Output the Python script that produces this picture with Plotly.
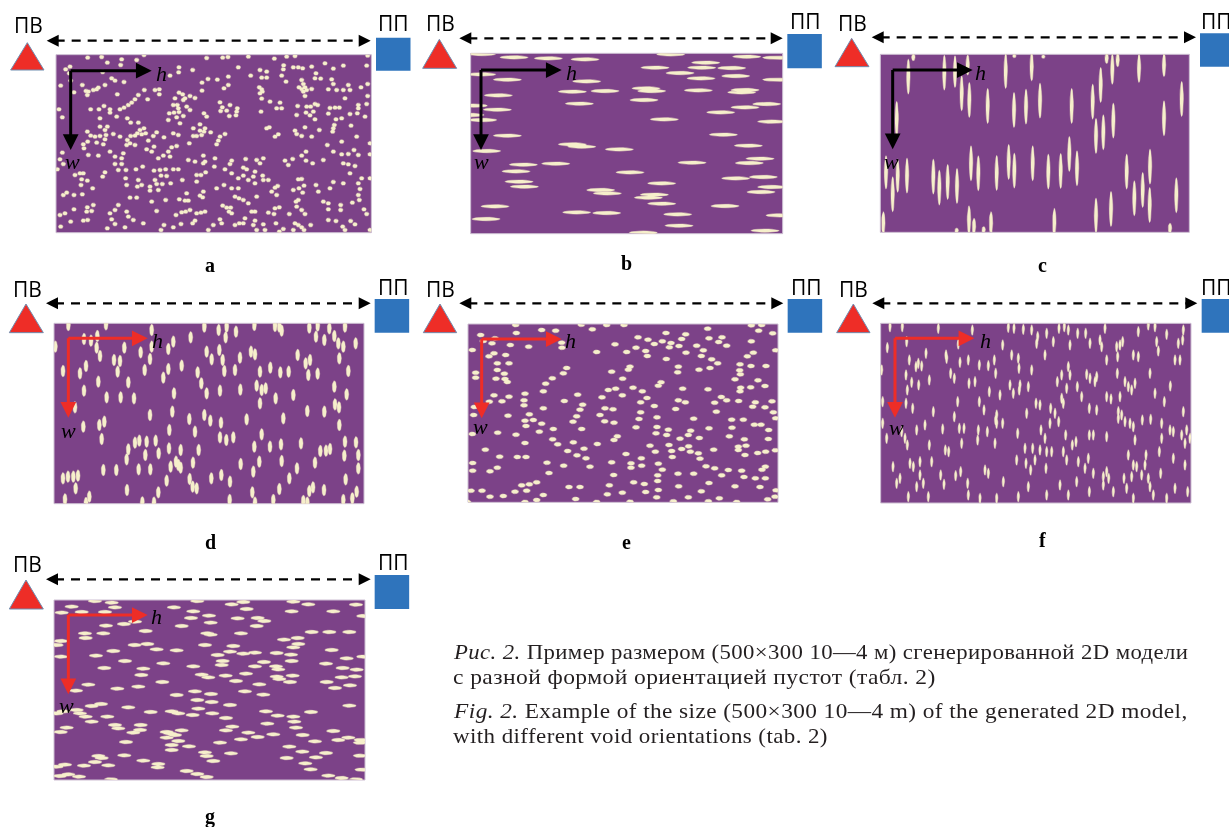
import numpy as np
import plotly.graph_objects as go

VOIDS_A = [(263,143),(305,141),(432,135),(620,144),(668,143),(684,141),(745,140),(823,146),(860,140),(885,138),(365,148),(322,158),(362,165),(410,150),(1103,137),(210,170),(197,178),(537,172),(851,166),(715,172),(975,160),(1030,167),(935,170),(880,172),(895,172),(908,175),(1100,167),(1000,176),(578,180),(780,180),(800,185),(850,178),(536,187),(510,197),(785,203),(800,203),(845,197),(752,197),(948,190),(945,205),(962,206),(995,208),(685,200),(652,209),(624,207),(606,218),(335,205),(345,212),(372,216),(308,186),(208,190),(212,212),(182,227),(247,225),(295,233),(315,225),(280,240),(290,238),(265,245),(258,243),(262,255),(222,247),(352,253),(415,255),(405,268),(395,278),(385,285),(433,240),(465,240),(478,238),(478,253),(443,268),(606,242),(685,225),(672,235),(778,232),(785,238),(787,245),(780,250),(785,266),(858,215),(905,210),(910,222),(897,232),(905,237),(915,232),(935,237),(920,240),(910,245),(915,258),(985,238),(1010,240),(1030,240),(1035,265),(1045,225),(1050,240),(1083,232),(1103,222),(1103,258),(1000,222),(537,248),(525,265),(548,253),(555,265),(570,258),(585,264),(550,270),(520,285),(532,285),(535,295),(537,306),(560,290),(570,300),(508,310),(522,308),(505,330),(550,318),(530,322),(540,340),(612,310),(620,320),(660,277),(667,292),(690,285),(662,303),(680,302),(712,295),(710,305),(688,318),(708,316),(615,355),(600,343),(580,355),(600,362),(612,365),(632,367),(590,378),(605,375),(580,378),(660,380),(655,392),(650,403),(675,372),(810,275),(840,278),(830,295),(845,295),(783,305),(893,288),(920,290),(932,290),(945,282),(953,285),(918,308),(940,305),(930,316),(945,328),(890,315),(990,294),(1005,293),(1018,293),(985,311),(1008,328),(1025,325),(1050,312),(1075,285),(1075,295),(1072,310),(1095,320),(1100,282),(1003,345),(1000,355),(998,365),(1053,347),(808,352),(800,355),(835,373),(825,380),(885,362),(890,372),(905,378),(915,352),(935,380),(958,360),(1025,395),(1070,380),(982,405),(1110,400),(177,298),(187,322),(272,298),(297,298),(312,288),(330,298),(330,308),(360,298),(372,293),(300,325),(350,320),(382,325),(392,338),(415,338),(300,350),(322,350),(315,360),(262,365),(272,377),(285,380),(300,378),(318,375),(315,388),(340,372),(360,380),(392,378),(405,377),(412,370),(425,373),(432,355),(420,360),(437,370),(382,390),(390,400),(405,405),(380,405),(263,395),(250,403),(252,415),(290,398),(310,403),(330,425),(345,440),(370,430),(365,445),(365,462),(345,462),(265,435),(295,437),(187,428),(180,448),(190,462),(172,478),(460,378),(492,382),(470,367),(520,370),(535,375),(445,392),(462,410),(440,418),(455,425),(530,408),(515,412),(505,425),(490,437),(475,445),(510,440),(568,400),(565,450),(585,455),(610,437),(615,455),(645,445),(610,460),(643,470),(695,452),(690,462),(675,478),(695,490),(737,447),(730,473),(740,478),(770,450),(790,445),(780,460),(765,485),(730,497),(715,505),(745,510),(760,500),(788,497),(790,510),(765,520),(805,510),(833,528),(855,452),(878,447),(865,465),(905,437),(918,425),(918,452),(938,460),(970,450),(1000,425),(1025,433),(1045,432),(1062,420),(1075,435),(1110,433),(1030,460),(1045,463),(1065,468),(1050,490),(905,507),(895,508),(912,527),(897,535),(908,548),(948,525),(955,545),(1000,516),(1030,520),(1075,520),(880,540),(1085,505),(1110,505),(990,535),(1080,537),(1075,555),(1078,570),(240,490),(250,490),(225,495),(315,487),(308,500),(245,508),(262,512),(243,525),(278,535),(355,480),(378,480),(377,505),(408,478),(428,470),(462,482),(480,480),(497,478),(520,478),(535,478),(483,497),(500,498),(465,510),(415,510),(380,525),(412,530),(425,525),(450,530),(450,542),(475,540),(470,522),(487,522),(512,520),(590,495),(603,495),(617,487),(547,510),(590,515),(560,550),(650,535),(672,525),(695,535),(715,535),(610,545),(600,557),(608,562),(565,572),(538,568),(555,572),(497,570),(455,575),(410,563),(390,563),(355,585),(345,600),(330,610),(380,605),(385,620),(400,630),(430,640),(335,628),(345,642),(375,652),(322,655),(200,548),(190,555),(222,555),(247,553),(195,610),(180,615),(222,598),(262,592),(280,585),(260,605),(275,603),(212,635),(250,632),(263,630),(182,650),(470,603),(557,605),(545,607),(570,600),(590,610),(603,608),(615,605),(528,615),(585,632),(578,640),(492,645),(520,652),(543,642),(483,660),(625,660),(640,645),(660,628),(668,587),(680,593),(692,593),(687,605),(695,610),(717,565),(705,560),(745,580),(730,570),(765,605),(755,605),(770,560),(825,533),(830,555),(815,545),(805,608),(825,595),(838,592),(822,612),(868,612),(888,575),(895,570),(890,590),(905,600),(915,612),(985,580),(970,575),(985,598),(1022,585),(1022,600),(1057,578),(1092,598),(1100,612),(985,630),(1008,633),(1052,633),(1065,643),(1028,650),(1035,660),(665,640),(705,645),(718,640),(735,625),(730,640),(765,632),(760,645),(790,643),(828,640),(795,660),(770,660),(850,657),(838,665),(880,660),(885,640),(895,645),(905,652),(912,660),(932,645),(1110,660)]
VOIDS_B = [(215,132),(312,142),(415,145),(525,148),(782,133),(887,158),(1010,140),(1100,143),(735,173),(875,173),(965,174),(810,189),(873,205),(977,198),(215,193),(292,209),(530,214),(1100,209),(708,235),(725,243),(865,241),(1005,240),(995,247),(487,245),(585,243),(265,256),(702,270),(508,281),(262,299),(1005,292),(1070,282),(932,307),(190,287),(218,330),(763,328),(1085,335),(292,377),(940,374),(487,403),(515,410),(628,418),(1015,407),(230,423),(1050,446),(1018,459),(340,464),(437,461),(846,458),(318,484),(660,487),(327,515),(343,530),(977,505),(1060,501),(755,520),(1085,531),(1053,546),(572,540),(592,550),(733,554),(715,563),(755,581),(255,589),(945,588),(500,607),(590,609),(803,613),(228,627),(807,647),(700,668),(1065,662),(1110,616),(180,315)]
VOIDS_C = [(265,200,105),(280,142,20),(373,188,105),(405,185,95),(443,165,60),(425,250,105),(448,270,105),(503,288,105),(557,183,105),(583,138,10),(635,170,85),(670,140,10),(582,300,105),(618,290,105),(660,272,105),(755,288,105),(818,275,105),(842,225,105),(860,145,30),(877,178,90),(893,150,40),(957,175,85),(1032,165,70),(1085,267,105),(1032,325,105),(828,378,105),(850,367,105),(880,332,105),(230,327,105),(198,487,100),(233,497,100),(261,497,105),(218,553,105),(340,500,105),(358,533,105),(383,516,105),(411,528,105),(453,460,105),(475,490,105),(530,489,105),(566,456,105),(583,482,105),(638,460,105),(685,485,105),(722,483,105),(748,432,105),(771,475,105),(920,485,105),(990,470,105),(968,540,105),(943,565,105),(989,585,105),(1069,556,105),(873,597,105),(828,617,105),(703,640,90),(447,630,85),(462,650,50),(513,640,70),(410,662,15),(491,660,20),(190,640,70),(1050,655,30)]
VOIDS_D = [(205,150),(318,148),(455,165),(613,155),(656,165),(680,155),(708,170),(763,150),(825,153),(838,155),(845,167),(928,158),(953,152),(988,160),(1035,155),(572,187),(677,187),(948,185),(973,195),(1003,183),(1015,205),(1030,215),(1067,205),(166,215),(252,192),(273,197),(292,183),(290,218),(300,243),(373,218),(455,215),(520,200),(505,222),(422,232),(620,230),(635,253),(658,225),(668,255),(720,248),(753,230),(765,238),(893,240),(917,265),(930,255),(1018,250),(258,273),(189,288),(240,295),(342,255),(360,258),(353,290),(434,285),(450,252),(505,282),(490,308),(545,272),(593,292),(604,325),(673,288),(705,285),(780,290),(811,278),(841,292),(866,290),(925,300),(953,296),(1045,288),(295,320),(385,322),(252,347),(320,367),(362,367),(402,370),(522,355),(620,355),(660,347),(721,344),(770,332),(785,345),(797,340),(827,370),(880,360),(1003,335),(1040,358),(780,385),(1005,388),(1017,397),(225,397),(450,420),(517,410),(613,420),(568,432),(631,437),(663,443),(740,433),(850,430),(922,408),(973,410),(250,455),(298,450),(313,440),(1018,450),(585,470),(508,465),(305,492),(660,487),(679,495),(700,487),(785,478),(405,503),(418,497),(440,500),(467,497),(385,523),(380,553),(436,540),(476,535),(507,520),(542,525),(596,525),(763,515),(810,515),(843,508),(903,505),(961,528),(978,527),(990,522),(1035,500),(1068,502),(1033,542),(1075,540),(528,560),(512,575),(535,570),(542,578),(579,563),(722,567),(778,560),(845,558),(945,563),(310,585),(349,585),(416,583),(451,583),(760,590),(891,580),(1075,580),(189,610),(204,605),(220,605),(234,602),(227,640),(664,600),(500,617),(569,612),(634,610),(690,620),(868,610),(1037,613),(578,635),(590,640),(381,645),(475,652),(757,652),(838,642),(928,648),(939,637),(972,645),(1070,650),(268,665),(195,673),(1057,670),(1030,675),(820,675),(689,675),(910,678),(922,683),(427,682),(462,683),(258,684),(765,683)]
VOIDS_E = [(317,150),(395,165),(437,167),(514,149),(547,163),(590,150),(642,150),(893,161),(1024,151),(1055,150),(1046,167),(1088,175),(212,180),(319,174),(768,174),(684,187),(714,194),(827,178),(815,192),(897,190),(936,187),(926,201),(950,212),(1024,199),(255,190),(220,198),(246,205),(301,210),(356,215),(455,203),(456,218),(615,208),(678,218),(733,207),(757,199),(783,204),(807,213),(778,217),(860,212),(880,226),(187,225),(252,235),(237,244),(287,240),(560,231),(650,231),(707,228),(712,243),(828,233),(874,243),(1030,233),(1012,244),(1097,226),(769,252),(905,253),(262,265),(297,265),(923,265),(990,268),(1023,273),(1068,273),(262,285),(470,279),(660,275),(655,284),(805,275),(803,292),(867,284),(900,279),(989,286),(991,298),(605,290),(197,293),(197,308),(283,296),(258,311),(285,312),(292,321),(460,295),(427,310),(638,311),(975,313),(1044,316),(753,322),(745,332),(407,326),(400,349),(1022,337),(1065,333),(992,338),(990,349),(595,345),(617,341),(669,338),(697,349),(818,341),(894,343),(637,361),(576,367),(503,359),(345,356),(342,376),(252,361),(297,365),(238,380),(276,379),(463,378),(518,389),(342,391),(692,382),(711,369),(733,393),(805,376),(826,382),(934,366),(914,383),(950,376),(986,378),(1036,382),(1086,379),(1028,395),(1065,397),(1090,412),(400,400),(510,404),(193,396),(191,420),(585,400),(609,403),(570,420),(797,402),(919,410),(294,422),(358,418),(500,424),(692,412),(687,432),(741,427),(851,431),(965,434),(1000,434),(1097,430),(345,437),(370,435),(395,446),(489,440),(584,439),(612,443),(348,453),(388,470),(430,462),(515,462),(678,457),(741,456),(775,464),(738,475),(770,480),(842,467),(897,460),(966,458),(1033,449),(1053,449),(1076,465),(187,477),(263,473),(318,479),(810,491),(835,480),(868,489),(958,484),(622,484),(612,495),(428,493),(443,508),(490,502),(345,504),(562,507),(1003,493),(1075,492),(720,512),(226,524),(473,528),(522,521),(777,510),(1008,512),(985,515),(985,525),(736,530),(785,528),(815,522),(836,514),(841,530),(865,535),(911,524),(1096,526),(1067,530),(1043,534),(1005,540),(269,545),(322,546),(348,546),(501,541),(528,550),(648,537),(787,546),(694,550),(870,551),(605,562),(188,564),(411,563),(461,572),(663,565),(695,572),(745,566),(663,578),(540,575),(262,578),(188,587),(240,589),(417,594),(757,584),(888,574),(914,580),(955,585),(995,587),(1066,575),(1056,584),(804,596),(851,596),(743,601),(611,600),(935,601),(1002,606),(1036,610),(1066,610),(743,618),(380,622),(358,628),(335,631),(671,622),(703,627),(806,634),(897,624),(975,634),(1050,636),(477,636),(510,636),(598,631),(745,645),(183,647),(216,647),(315,650),(350,647),(707,651),(874,649),(637,653),(592,658),(400,660),(240,665),(280,663),(1098,646),(835,667),(740,667),(928,670),(1095,665),(380,675),(497,672),(345,681),(1073,673),(560,681),(790,679),(895,679),(980,681),(660,680),(172,681)]
VOIDS_F = [(210,155),(247,155),(355,160),(457,165),(565,157),(582,160),(610,163),(635,165),(680,175),(653,185),(717,160),(733,155),(745,165),(773,175),(797,175),(855,160),(955,170),(985,150),(1005,155),(1040,178),(1090,165),(202,218),(260,200),(318,235),(378,240),(415,207),(548,210),(650,205),(700,200),(750,210),(810,205),(840,195),(845,215),(890,215),(900,210),(908,200),(1010,200),(1075,205),(1088,195),(268,255),(288,275),(295,265),(305,273),(380,250),(420,262),(445,255),(478,270),(505,272),(523,255),(527,295),(575,240),(595,250),(597,280),(635,285),(675,240),(745,275),(860,255),(893,245),(940,240),(955,245),(1015,228),(1065,255),(1080,255),(185,285),(258,300),(275,322),(296,330),(328,315),(392,295),(403,310),(447,325),(465,320),(570,330),(600,330),(625,335),(712,320),(725,300),(750,300),(740,340),(772,335),(800,298),(810,310),(825,320),(830,305),(892,295),(915,320),(925,335),(935,345),(945,325),(990,295),(1051,333),(262,345),(508,350),(540,360),(580,355),(598,345),(725,370),(785,365),(860,365),(873,372),(900,365),(1005,355),(188,380),(258,385),(278,400),(340,410),(413,380),(478,380),(492,405),(648,385),(660,390),(692,400),(705,415),(730,385),(808,400),(830,405),(895,410),(905,420),(1033,380),(1090,410),(403,425),(620,415),(530,420),(527,435),(188,445),(530,445),(548,445),(895,430),(915,440),(930,445),(940,455),(967,435),(992,433),(1025,445),(290,465),(315,450),(368,462),(418,460),(432,460),(475,465),(502,470),(593,475),(663,465),(690,445),(716,440),(737,480),(860,485),(808,480),(820,480),(1050,465),(1060,470),(1085,480),(1100,465),(1110,490),(200,490),(255,490),(245,470),(262,510),(328,510),(376,525),(386,530),(425,505),(473,495),(525,505),(675,490),(768,500),(757,510),(945,495),(1025,490),(615,520),(638,520),(660,525),(680,530),(695,530),(730,530),(925,540),(978,540),(1018,530),(1095,505),(270,565),(219,575),(280,575),(300,560),(335,560),(590,555),(618,565),(645,555),(678,580),(740,555),(775,560),(805,550),(795,580),(940,570),(950,575),(975,570),(1060,550),(1095,570),(240,610),(300,600),(362,600),(407,602),(422,590),(495,585),(505,595),(632,585),(820,595),(850,605),(860,590),(866,610),(912,610),(935,605),(965,600),(985,610),(1022,595),(372,628),(290,635),(230,625),(310,625),(443,625),(550,620),(625,635),(720,630),(770,620),(850,630),(920,640),(990,635),(1065,640),(265,665),(325,665),(445,660),(595,665),(480,670),(530,670),(680,660),(745,660),(808,650),(880,650),(1000,660),(1040,670),(1103,650),(940,670)]
VOIDS_G = [(285,153),(335,158),(592,153),(730,156),(695,163),(880,155),(925,163),(1068,164),(215,170),(345,172),(522,172),(740,177),(185,188),(245,186),(315,186),(580,184),(875,184),(1000,184),(627,197),(573,204),(632,218),(713,205),(773,204),(793,213),(770,228),(545,228),(1090,198),(405,215),(372,222),(318,227),(437,243),(255,250),(310,250),(257,264),(622,250),(632,254),(723,250),(935,246),(988,246),(1048,246),(893,264),(852,269),(183,273),(404,285),(442,282),(700,288),(615,285),(895,282),(880,292),(170,285),(470,298),(530,301),(340,303),(690,305),(653,315),(730,311),(765,308),(830,309),(873,314),(995,300),(183,320),(288,317),(668,333),(665,345),(792,336),(875,333),(375,333),(490,340),(1040,325),(1090,320),(978,341),(313,354),(430,356),(580,349),(765,349),(828,349),(835,358),(1028,354),(1070,359),(424,375),(605,374),(625,382),(677,377),(738,371),(878,377),(830,380),(838,387),(1025,382),(1065,379),(487,396),(708,393),(870,396),(980,396),(265,404),(352,416),(415,410),(778,403),(1050,406),(1005,414),(735,424),(585,424),(228,422),(530,435),(633,432),(790,434),(592,450),(635,456),(303,462),(275,468),(385,472),(690,465),(1048,467),(595,476),(230,480),(170,490),(190,484),(240,490),(452,486),(515,484),(535,490),(578,495),(637,490),(798,484),(933,486),(257,500),(322,500),(833,497),(880,500),(678,504),(275,515),(345,525),(422,525),(802,521),(883,515),(355,535),(420,540),(888,533),(200,533),(697,530),(182,546),(400,548),(500,546),(545,541),(510,550),(525,555),(745,548),(678,541),(1000,543),(820,553),(908,555),(773,561),(723,568),(500,563),(535,573),(1045,563),(1015,570),(378,576),(660,578),(945,574),(1082,570),(1080,578),(515,585),(567,589),(868,590),(515,600),(615,607),(907,605),(693,610),(978,609),(295,618),(373,616),(620,618),(860,624),(948,622),(1080,617),(305,624),(640,633),(285,636),(430,632),(916,640),(195,644),(252,647),(325,646),(475,642),(473,652),(932,658),(170,650),(1085,659),(560,663),(592,672),(205,673),(180,678),(237,680),(620,681),(985,677),(1025,684),(333,688),(1068,688)]

CAPTION_RU_1 = "<i>Рис. 2.</i> Пример размером (500×300 10—4 м) сгенерированной 2D модели"
CAPTION_RU_2 = "с разной формой ориентацией пустот (табл. 2)"
CAPTION_EN_1 = "<i>Fig. 2.</i> Example of the size (500×300 10—4 m) of the generated 2D model,"
CAPTION_EN_2 = "with different void orientations (tab. 2)"

PURPLE, CREAM, HALO = "#7C4288", "#F6EFCB", "rgba(225,205,185,0.5)"
RED, BLUE, EDGE = "#EE2D27", "#2F74BC", "#6F8DB0"

# per-panel layout in crop pixels
PANELS = [
 dict(n="a", off=(0,10), v=VOIDS_A, r=(2.2,1.9), rect=(168,134,1114,668), tri=(82,98,32,132,180), dash=(92,140,1112), sq=(1128,83,182), pv=(84,45), pp=(1180,40), corner=(212,182), hx=455, wy=420, hl=(483,190), wl=(218,453), lab=(630,765), col="black"),
 dict(n="b", off=(410,10), v=VOIDS_B, r=(14,1.7), rect=(182,130,1118,671), tri=(88,88,38,140,175), dash=(85,148,1118), sq=(1132,72,175), pv=(90,40), pp=(1185,33), corner=(213,180), hx=455, wy=420, hl=(483,188), wl=(215,453), lab=(650,760), col="black"),
 dict(n="c", off=(820,10), v=VOIDS_C, r=(1.7,None), rect=(181,133,1108,667), tri=(95,85,45,147,170), dash=(82,155,1128), sq=(1140,70,170), pv=(97,38), pp=(1190,33), corner=(218,180), hx=458, wy=418, hl=(480,188), wl=(213,453), lab=(668,765), col="black"),
 dict(n="d", off=(0,275), v=VOIDS_D, r=(2.0,5.7), rect=(162,145,1092,686), tri=(78,87,28,130,173), dash=(85,138,1112), sq=(1124,72,173), pv=(82,42), pp=(1180,35), corner=(205,190), hx=443, wy=428, hl=(472,197), wl=(205,465), lab=(630,800), col=RED),
 dict(n="e", off=(410,275), v=VOIDS_E, r=(3.5,2.0), rect=(174,147,1104,682), tri=(90,87,40,140,173), dash=(85,148,1120), sq=(1133,72,173), pv=(90,42), pp=(1190,35), corner=(215,192), hx=455, wy=430, hl=(480,195), wl=(210,455), lab=(650,800), col=RED),
 dict(n="f", off=(820,275), v=VOIDS_F, r=(1.2,5.2), rect=(182,145,1113,684), tri=(100,87,50,150,173), dash=(85,157,1132), sq=(1145,72,173), pv=(100,42), pp=(1190,35), corner=(225,190), hx=463, wy=428, hl=(495,195), wl=(230,458), lab=(668,795), col=RED),
 dict(n="g", off=(0,550), v=VOIDS_G, r=(6.7,1.7), rect=(162,150,1095,690), tri=(78,90,28,130,177), dash=(88,138,1112), sq=(1124,75,177), pv=(82,42), pp=(1180,35), corner=(205,195), hx=443, wy=433, hl=(470,200), wl=(200,465), lab=(630,800), col=RED),
]

fig = go.Figure()
T = np.linspace(0, 2*np.pi, 25)
shapes, ann = [], []

def arrow(x0, y0, x1, y1, color, width, size):
    ann.append(dict(x=x1, y=y1, ax=x0, ay=y0, xref="x", yref="y", axref="x", ayref="y",
                    text="", showarrow=True, arrowhead=2, arrowsize=size, arrowwidth=width, arrowcolor=color))

def text(x, y, s, size, family, color="black"):
    ann.append(dict(x=x, y=y, xref="x", yref="y", text=s, showarrow=False,
                    font=dict(size=size, family=family, color=color)))

for p in PANELS:
    ox, oy = p["off"]
    X = lambda v: ox + v/3
    Y = lambda v: oy + v/3
    x0, y0, x1, y1 = X(p["rect"][0]), Y(p["rect"][1]), X(p["rect"][2]), Y(p["rect"][3])
    shapes.append(dict(type="rect", x0=x0, x1=x1, y0=y0, y1=y1, fillcolor=PURPLE,
                       line=dict(color="#CDBED2", width=1), layer="below"))
    for grow, color in ((0.6, HALO), (0.0, CREAM)):
        xs, ys = [], []
        for v in p["v"]:
            rx = p["r"][0]
            ry = p["r"][1] if p["r"][1] is not None else v[2]/6
            ex = np.clip(X(v[0]) + (rx+grow)*np.cos(T), x0, x1)
            ey = np.clip(Y(v[1]) + (ry+grow)*np.sin(T), y0, y1)
            xs += ex.tolist() + [None]
            ys += ey.tolist() + [None]
        fig.add_trace(go.Scatter(x=xs, y=ys, mode="lines", fill="toself", fillcolor=color,
                                 line=dict(width=0), hoverinfo="skip", showlegend=False))
    ax_, bx0, bx1, by = p["tri"][0], p["tri"][2], p["tri"][3], p["tri"][4]
    shapes.append(dict(type="path", path=f"M{X(ax_)},{Y(p['tri'][1])} L{X(bx0)},{Y(by)} L{X(bx1)},{Y(by)} Z",
                       fillcolor=RED, line=dict(color=EDGE, width=1)))
    sx, st, sb = p["sq"]
    shapes.append(dict(type="rect", x0=X(sx), x1=X(sx)+34.5, y0=Y(st), y1=Y(sb), fillcolor=BLUE, line=dict(width=0)))
    dy, dx0, dx1 = p["dash"]
    shapes.append(dict(type="line", x0=X(dx0)+9, x1=X(dx1)-9, y0=Y(dy), y1=Y(dy),
                       line=dict(color="black", width=2.4, dash="9px,7px")))
    arrow(X(dx0)+10, Y(dy), X(dx0), Y(dy), "black", 2, 1.2)
    arrow(X(dx1)-10, Y(dy), X(dx1), Y(dy), "black", 2, 1.2)
    cx, cy = p["corner"]
    arrow(X(cx)-1.5, Y(cy), X(p["hx"]), Y(cy), p["col"], 3, 1.05)
    arrow(X(cx), Y(cy)-1.5, X(cx), Y(p["wy"]), p["col"], 3, 1.05)
    text(X(p["hl"][0]), Y(p["hl"][1]), "<i>h</i>", 22, "Liberation Serif")
    text(X(p["wl"][0]), Y(p["wl"][1]), "<i>w</i>", 22, "Liberation Serif")
    text(X(p["pv"][0]), Y(p["pv"][1]), "ПВ", 21, "Open Sans")
    text(X(p["pp"][0]), Y(p["pp"][1]), "ПП", 21, "Open Sans")
    text(X(p["lab"][0]), Y(p["lab"][1]), f"<b>{p['n']}</b>", 20, "Liberation Serif")

for y, s in ((652, CAPTION_RU_1), (677, CAPTION_RU_2), (711, CAPTION_EN_1), (736, CAPTION_EN_2)):
    ann.append(dict(x=453, y=y, xref="x", yref="y", xanchor="left", text=s, showarrow=False,
                    font=dict(size=20, family="Liberation Serif", color="#231F20")))

fig.update_layout(width=1229, height=827, margin=dict(l=0, r=0, t=0, b=0), plot_bgcolor="white",
                  paper_bgcolor="white", shapes=shapes, annotations=ann, showlegend=False,
                  xaxis=dict(range=[0, 1229], visible=False, fixedrange=True),
                  yaxis=dict(range=[827, 0], visible=False, fixedrange=True))

# the reference's caption is wide-set: fit each line to its measured width
POST = """
document.body.style.margin='0';
var targets={'Рис. 2':736,'с разной':483,'Fig. 2':735,'with different':375};
document.querySelectorAll('.annotation-text').forEach(function(t){
  var s=t.textContent;
  for(var k in targets){ if(s.indexOf(k)===0){
    t.style.letterSpacing='0.35px';
    var w=t.getBoundingClientRect().width;
    var sc=targets[k]/w;
    t.setAttribute('transform','scale('+sc+',1)');
    var dx=453-t.getBoundingClientRect().left;
    t.setAttribute('transform','translate('+dx+',0) scale('+sc+',1)');
  }}
});
document.querySelectorAll('.main-svg').forEach(function(v){v.style.filter='blur(0.45px)';});
"""
fig.write_html("out.html", config=dict(displayModeBar=False), post_script=POST)
